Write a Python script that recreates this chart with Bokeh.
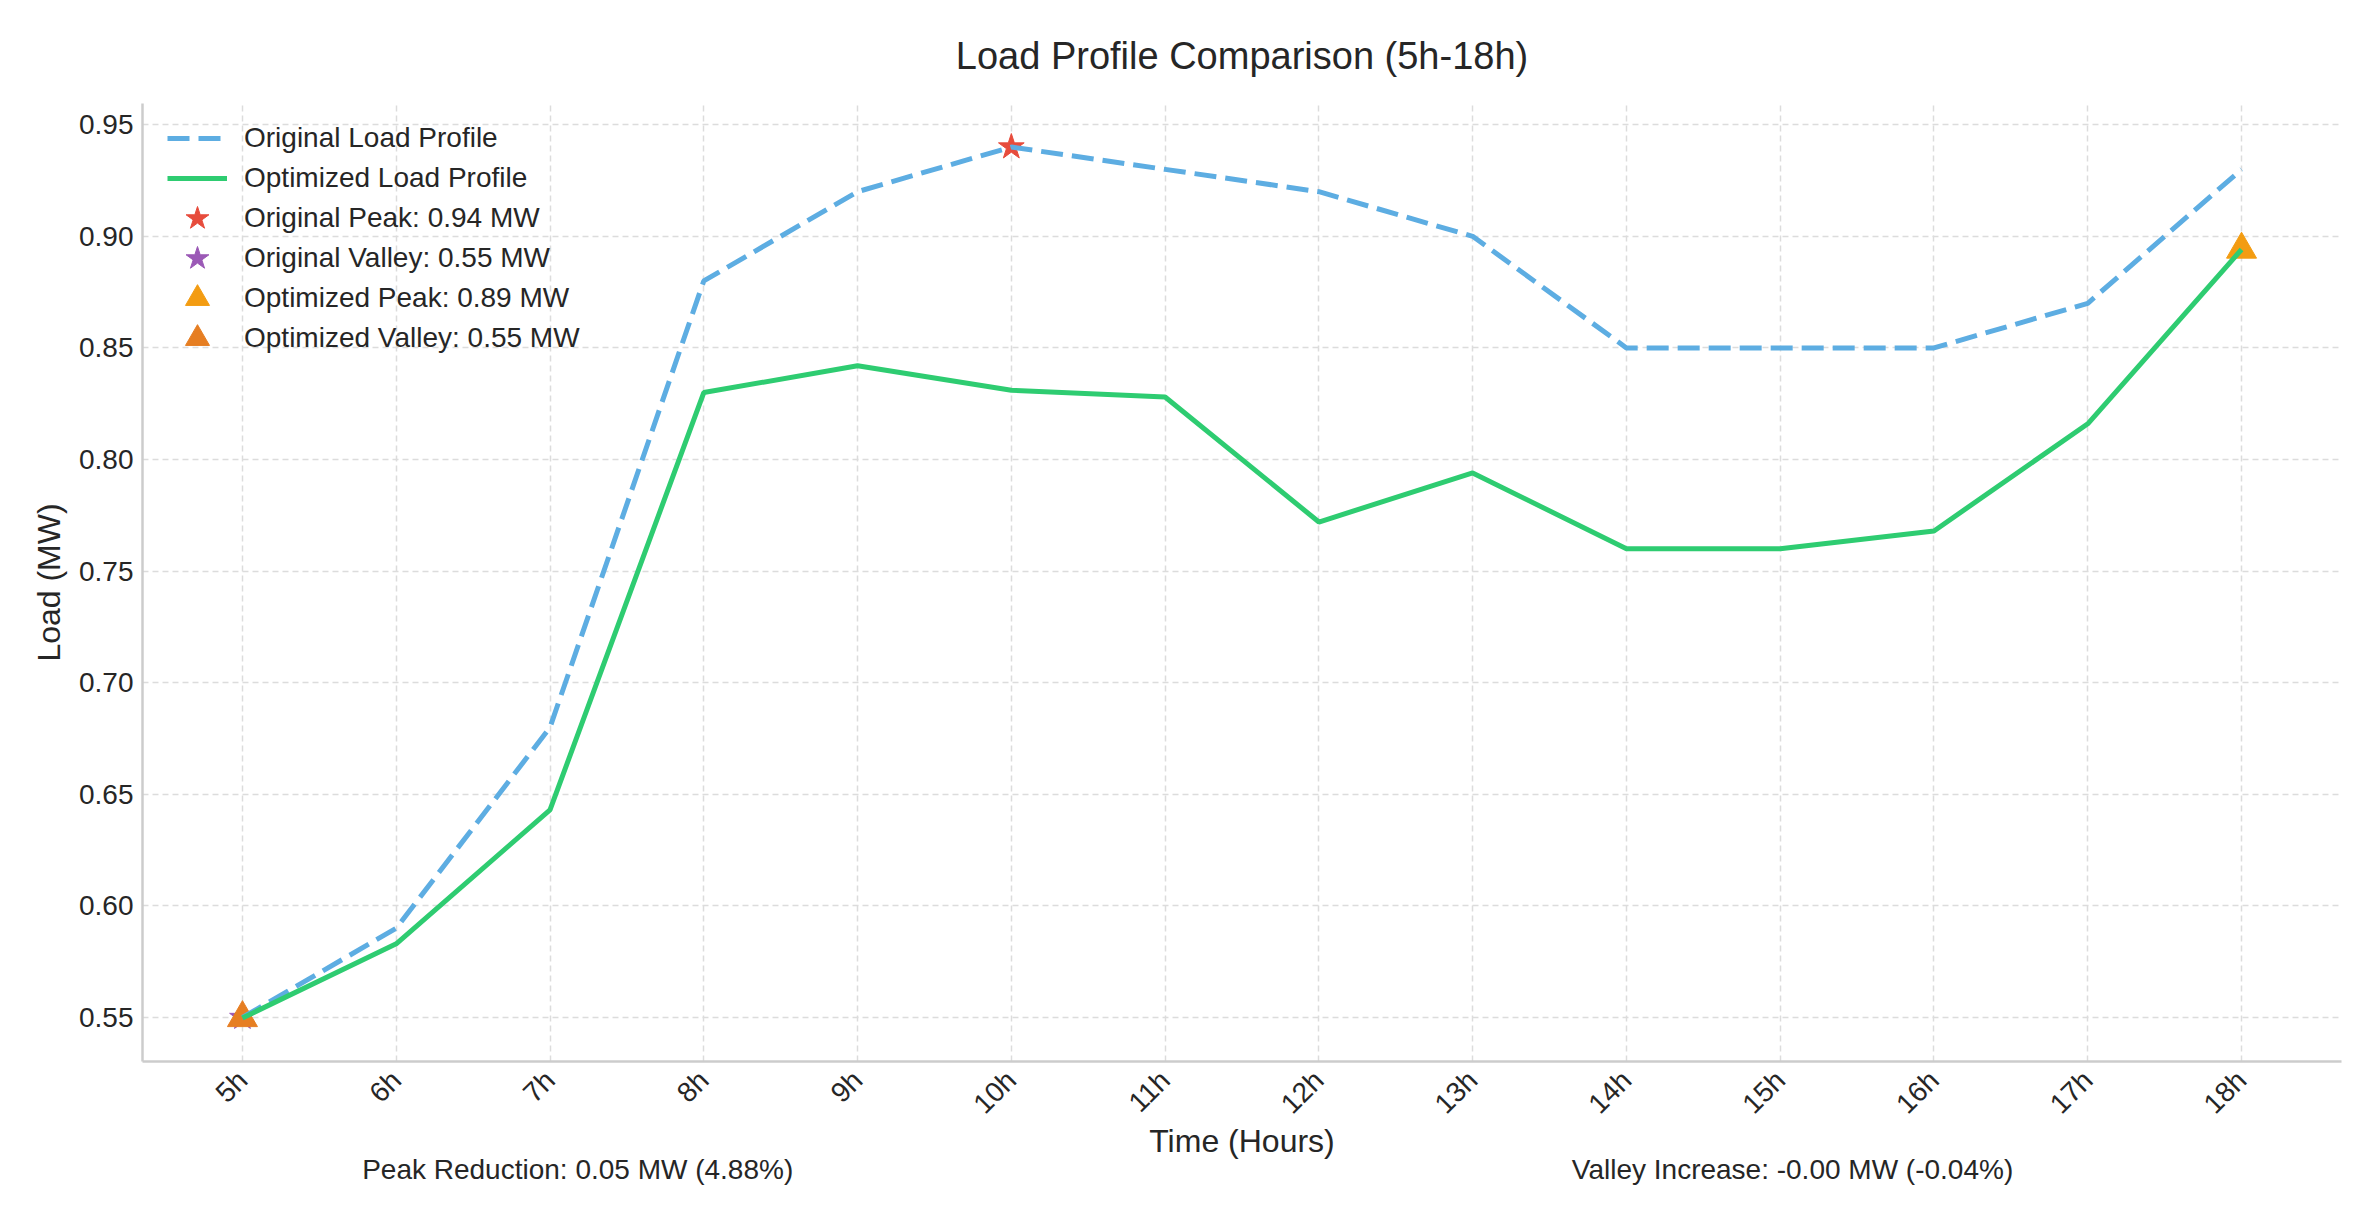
import math

from bokeh.embed import file_html
from bokeh.models import (FixedTicker, Legend, LegendItem, LinearAxis,
                          NumeralTickFormatter, Range1d)
from bokeh.plotting import figure
from bokeh.resources import INLINE

# Hourly load (MW) between 5h and 18h
hours = list(range(5, 19))
hour_labels = [f"{h}h" for h in hours]
original_load = [0.55, 0.59, 0.68, 0.88, 0.92, 0.94, 0.93,
                 0.92, 0.90, 0.85, 0.85, 0.85, 0.87, 0.93]
optimized_load = [0.5498, 0.583, 0.643, 0.830, 0.842, 0.831, 0.828,
                  0.772, 0.794, 0.760, 0.760, 0.768, 0.816, 0.8941]
y_ticks = [0.55, 0.60, 0.65, 0.70, 0.75, 0.80, 0.85, 0.90, 0.95]

FONT = "Liberation Sans"
TEXT = "#262626"

# Peaks and valleys of both profiles
o_pk = max(range(len(hours)), key=lambda i: original_load[i])
o_vl = min(range(len(hours)), key=lambda i: original_load[i])
n_pk = max(range(len(hours)), key=lambda i: optimized_load[i])
n_vl = min(range(len(hours)), key=lambda i: optimized_load[i])

peak_red = original_load[o_pk] - optimized_load[n_pk]
peak_pct = peak_red / original_load[o_pk] * 100
valley_inc = optimized_load[n_vl] - original_load[o_vl]
valley_pct = valley_inc / original_load[o_vl] * 100

all_vals = original_load + optimized_load
lo, hi = min(all_vals), max(all_vals)
pad_y = (hi - lo) * 0.05
pad_x = (hours[-1] - hours[0]) * 0.05

p = figure(width=2375, height=1219, output_backend="svg", toolbar_location=None,
           x_range=Range1d(hours[0] - pad_x, hours[-1] + pad_x),
           y_range=Range1d(lo - pad_y, hi + pad_y),
           min_border_left=142, min_border_right=34,
           min_border_top=103, min_border_bottom=158)
p.outline_line_color = None
p.background_fill_color = "white"
p.border_fill_color = "white"

p.title.text = "Load Profile Comparison (5h-18h)"
p.title.align = "center"
p.title.text_font = FONT
p.title.text_font_size = "38px"
p.title.text_font_style = "normal"
p.title.text_color = TEXT
p.title.standoff = 53

# Axes
for ax in (p.xaxis[0], p.yaxis[0]):
    ax.axis_line_color = "#cccccc"
    ax.axis_line_width = 2.5
    ax.major_tick_line_color = None
    ax.minor_tick_line_color = None
    ax.major_label_text_font = FONT
    ax.major_label_text_font_size = "28px"
    ax.major_label_text_color = TEXT
    ax.axis_label_text_font = FONT
    ax.axis_label_text_font_size = "32px"
    ax.axis_label_text_font_style = "normal"
    ax.axis_label_text_color = TEXT

p.xaxis.ticker = FixedTicker(ticks=hours)
p.xaxis.major_label_overrides = {h: lab for h, lab in zip(hours, hour_labels)}
p.xaxis.major_label_orientation = math.pi / 4
p.xaxis.major_label_standoff = 8
p.xaxis.axis_label = "Time (Hours)"
p.xaxis.axis_label_standoff = -10

p.yaxis.ticker = FixedTicker(ticks=y_ticks)
p.yaxis.formatter = NumeralTickFormatter(format="0.00")
p.yaxis.major_label_standoff = 3
p.yaxis.axis_label = "Load (MW)"
p.yaxis.axis_label_standoff = 9

for g in (p.xgrid[0], p.ygrid[0]):
    g.grid_line_color = "#dcdcdc"
    g.grid_line_width = 1.5
    g.grid_line_dash = "6 4"

# Peak / valley markers (below the lines)
r_opk = p.scatter([hours[o_pk]], [original_load[o_pk]], marker="star", size=27,
                  fill_color="#e74c3c", line_color="#e74c3c")
r_ovl = p.scatter([hours[o_vl]], [original_load[o_vl]], marker="star", size=27,
                  fill_color="#9b59b6", line_color="#9b59b6")
r_npk = p.scatter([hours[n_pk]], [optimized_load[n_pk]], marker="triangle", size=30,
                  fill_color="#f39c12", line_color="#f39c12")
r_nvl = p.scatter([hours[n_vl]], [optimized_load[n_vl]], marker="triangle", size=30,
                  fill_color="#e67e22", line_color="#e67e22")

# Load profiles
r_orig = p.line(hours, original_load, line_color="#5dade2", line_width=5,
                line_dash="22 9")
r_opt = p.line(hours, optimized_load, line_color="#2ecc71", line_width=5)

# One single-row legend per entry, stacked 40 px apart
entries = [
    ("Original Load Profile", r_orig),
    ("Optimized Load Profile", r_opt),
    (f"Original Peak: {original_load[o_pk]:.2f} MW", r_opk),
    (f"Original Valley: {original_load[o_vl]:.2f} MW", r_ovl),
    (f"Optimized Peak: {optimized_load[n_pk]:.2f} MW", r_npk),
    (f"Optimized Valley: {optimized_load[n_vl]:.2f} MW", r_nvl),
]
for i, (lab, rend) in enumerate(entries):
    lg = Legend(items=[LegendItem(label=lab, renderers=[rend])],
                location=(25, 893 - 40 * i),
                border_line_color=None, background_fill_alpha=0,
                label_text_font=FONT, label_text_font_size="28px",
                label_text_color=TEXT, glyph_width=60, glyph_height=60,
                label_height=39, spacing=0, label_standoff=17,
                padding=0, margin=0)
    p.add_layout(lg, "center")

# Summary figures beneath the axis title
summary_pos = [7.18, 15.08]
summary_txt = [f"Peak Reduction: {peak_red:.2f} MW ({peak_pct:.2f}%)",
               f"Valley Increase: {valley_inc:.2f} MW ({valley_pct:.2f}%)"]
summary_axis = LinearAxis(ticker=FixedTicker(ticks=summary_pos),
                          major_label_overrides=dict(zip(summary_pos, summary_txt)),
                          axis_line_color=None, major_tick_line_color=None,
                          minor_tick_line_color=None, major_label_standoff=-15,
                          major_label_text_font=FONT,
                          major_label_text_font_size="28px",
                          major_label_text_color=TEXT)
p.add_layout(summary_axis, "below")

open("out.html", "w").write(file_html(p, INLINE))
